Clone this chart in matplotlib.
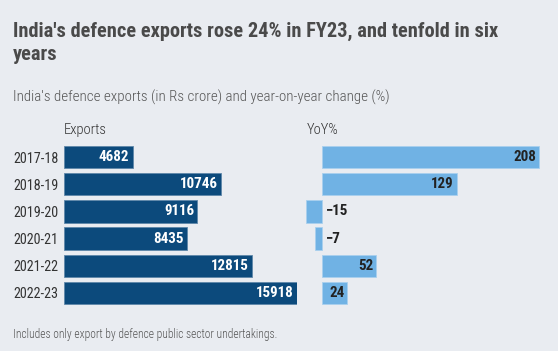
import matplotlib
matplotlib.use('Agg')
import matplotlib.pyplot as plt

years = ['2017-18', '2018-19', '2019-20', '2020-21', '2021-22', '2022-23']
exports = [4682, 10746, 9116, 8435, 12815, 15918]
yoy = [208, 129, -15, -7, 52, 24]

bg = '#e9ecf1'
dark = '#0c4a7c'
light = '#70b2e4'
fam = ['Roboto Condensed', 'DejaVu Sans']

W, H = 558, 351
fig = plt.figure(figsize=(W / 100, H / 100), dpi=100, facecolor=bg)

def px(x0, y0, x1, y1):
    return [x0 / W, 1 - y1 / H, (x1 - x0) / W, (y1 - y0) / H]

fig.text(13 / W, 1 - 37 / H, "India's defence exports rose 24% in FY23, and tenfold in six",
         fontsize=14.7, fontweight='bold', color='#4a4a4a', family=fam)
fig.text(13 / W, 1 - 59.5 / H, "years", fontsize=14.7, fontweight='bold', color='#4a4a4a', family=fam)
fig.text(13 / W, 1 - 102 / H, "India's defence exports (in Rs crore) and year-on-year change (%)",
         fontsize=10.8, fontweight='light', color='#555555', family=fam)
fig.text(13 / W, 1 - 338 / H, "Includes only export by defence public sector undertakings.",
         fontsize=8.3, fontweight='light', color='#555555', family=fam)

pos = range(len(years))

ax1 = fig.add_axes(px(64, 143.4, 297, 306.6))
ax1.barh(pos, exports, height=0.82, color=dark, edgecolor='#5f87aa', linewidth=0.6)
ax1.set_xlim(0, 15918)
ax1.set_ylim(5.5, -0.5)
ax1.set_yticks(list(pos))
ax1.set_yticklabels(years, family=fam, fontsize=10.2, color='#333333')
ax1.tick_params(length=0, pad=4)
ax1.set_xticks([])
ax1.set_facecolor('none')
for s in ax1.spines.values():
    s.set_visible(False)
for i, v in enumerate(exports):
    ax1.text(v - 220, i, str(v), ha='right', va='center', color='white',
             fontweight='bold', fontsize=10.8, family=fam)
ax1.text(0, -0.72, 'Exports', ha='left', va='bottom', fontsize=10.5, fontweight='light',
         color='#333333', family=fam)

ax2 = fig.add_axes(px(300, 143.4, 545, 306.6))
ax2.barh(pos, yoy, height=0.82, color=light, edgecolor='#a9d0ee', linewidth=0.6)
ax2.set_xlim(-21.1, 213.8)
ax2.set_ylim(5.5, -0.5)
ax2.axis('off')
for i, v in enumerate(yoy):
    lab = str(v).replace('-', '\u2212')
    if v > 0:
        ax2.text(v - 2.5, i, lab, ha='right', va='center', color='#222222',
                 fontweight='bold', fontsize=10.8, family=fam)
    else:
        ax2.text(3.5, i, lab, ha='left', va='center', color='#222222',
                 fontweight='bold', fontsize=10.8, family=fam)
ax2.text(-15, -0.72, 'YoY%', ha='left', va='bottom', fontsize=10.5, fontweight='light',
         color='#333333', family=fam)

fig.savefig('out.png', dpi=100, facecolor=bg)
